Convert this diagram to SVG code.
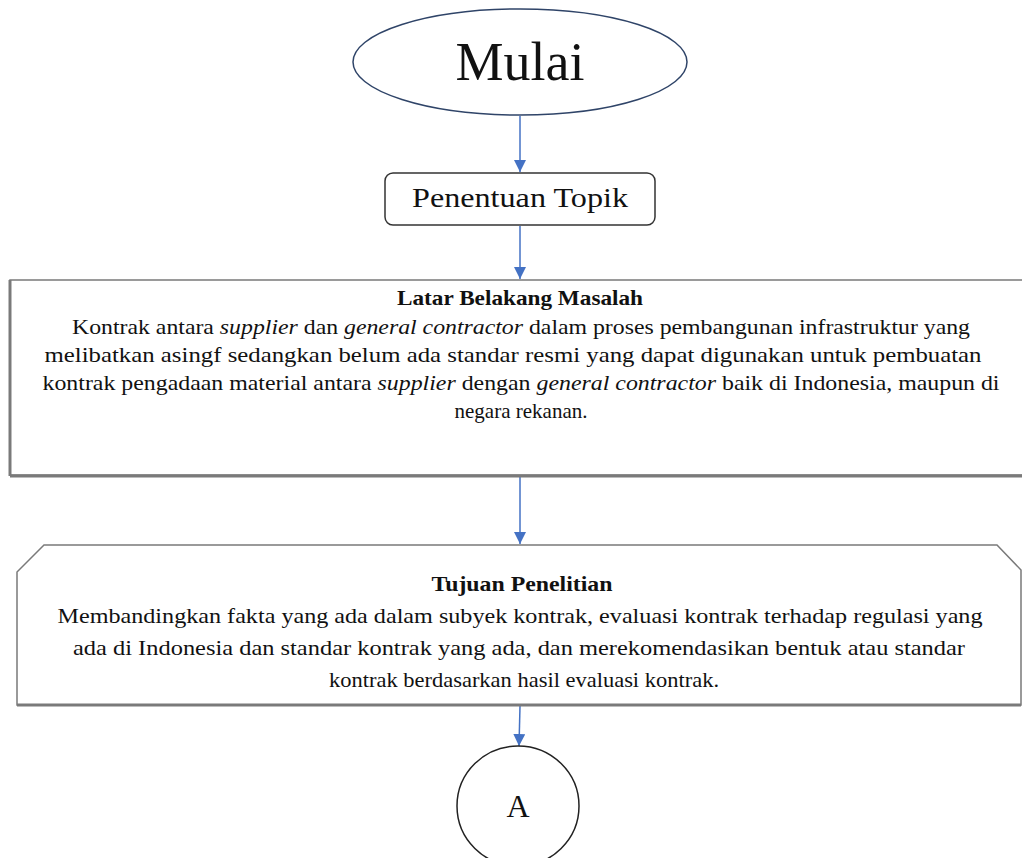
<svg xmlns="http://www.w3.org/2000/svg" width="1022" height="858" viewBox="0 0 1022 858">
<defs>
<style>
.t{font-family:"Liberation Serif","DejaVu Serif",serif;fill:#111;}
.b{font-size:22px;}
.h{font-size:22px;font-weight:bold;}
.i{font-style:italic;}
.conn{stroke:#4472C4;stroke-width:1.5;fill:none;}
.box{fill:#fff;stroke:#7a7a7a;stroke-width:1.5;}
.shadow{fill:none;stroke:#7a7a7a;stroke-width:3;}
</style>
<marker id="arr" viewBox="0 0 10 10" refX="10" refY="5" markerWidth="12" markerHeight="12" markerUnits="userSpaceOnUse" orient="auto">
<path d="M0,0 L10,5 L0,10 Z" fill="#4472C4"/>
</marker>
</defs>
<rect width="1022" height="858" fill="#fff"/>

<g id="connectors">
<line class="conn" x1="520" y1="116" x2="520" y2="172" marker-end="url(#arr)"/>
<line class="conn" x1="520" y1="226" x2="520" y2="279" marker-end="url(#arr)"/>
<line class="conn" x1="520" y1="477" x2="520" y2="544" marker-end="url(#arr)"/>
<line class="conn" x1="520" y1="706" x2="519" y2="746" marker-end="url(#arr)"/>
</g>

<g id="mulai">
<ellipse cx="520" cy="62" rx="167" ry="53" fill="#fff" stroke="#2f4468" stroke-width="1.5"/>
<text class="t" x="520" y="80" font-size="54" text-anchor="middle">Mulai</text>
</g>

<g id="topik">
<rect x="385" y="173" width="270" height="52" rx="8" ry="8" fill="#fff" stroke="#333" stroke-width="1.5"/>
<text class="t" x="520" y="207" font-size="28" text-anchor="middle" textLength="216" lengthAdjust="spacingAndGlyphs">Penentuan Topik</text>
</g>

<g id="latar">
<rect class="box" x="10" y="280" width="1030" height="195"/>
<line class="shadow" x1="10" y1="476" x2="1022" y2="476"/>
<line class="shadow" x1="10" y1="280" x2="10" y2="476"/>
<text class="t h" x="520" y="305" text-anchor="middle" textLength="246" lengthAdjust="spacingAndGlyphs">Latar Belakang Masalah</text>
<text class="t b" x="521" y="334" text-anchor="middle" textLength="898" lengthAdjust="spacingAndGlyphs">Kontrak antara <tspan class="i">supplier</tspan> dan <tspan class="i">general contractor</tspan> dalam proses pembangunan infrastruktur yang</text>
<text class="t b" x="513" y="362" text-anchor="middle" textLength="937" lengthAdjust="spacingAndGlyphs">melibatkan asingf sedangkan belum ada standar resmi yang dapat digunakan untuk pembuatan</text>
<text class="t b" x="521" y="390" text-anchor="middle" textLength="957" lengthAdjust="spacingAndGlyphs">kontrak pengadaan material antara <tspan class="i">supplier</tspan> dengan <tspan class="i">general contractor</tspan> baik di Indonesia, maupun di</text>
<text class="t b" x="521" y="418" text-anchor="middle" textLength="133" lengthAdjust="spacingAndGlyphs">negara rekanan.</text>
</g>

<g id="tujuan">
<path class="box" d="M44,545 L997,545 L1021,570 L1021,705 L17,705 L17,572 Z"/>
<line class="shadow" x1="17" y1="705" x2="1021" y2="705"/>
<text class="t h" x="522" y="591" text-anchor="middle" textLength="181" lengthAdjust="spacingAndGlyphs">Tujuan Penelitian</text>
<text class="t b" x="520" y="623" text-anchor="middle" textLength="925" lengthAdjust="spacingAndGlyphs">Membandingkan fakta yang ada dalam subyek kontrak, evaluasi kontrak terhadap regulasi yang</text>
<text class="t b" x="519" y="655" text-anchor="middle" textLength="892" lengthAdjust="spacingAndGlyphs">ada di Indonesia dan standar kontrak yang ada, dan merekomendasikan bentuk atau standar</text>
<text class="t b" x="524" y="687" text-anchor="middle" textLength="390" lengthAdjust="spacingAndGlyphs">kontrak berdasarkan hasil evaluasi kontrak.</text>
</g>

<g id="a">
<ellipse cx="518" cy="806" rx="61" ry="60" fill="#fff" stroke="#222" stroke-width="1.5"/>
<text class="t" x="518" y="817" font-size="32" text-anchor="middle">A</text>
</g>
</svg>
